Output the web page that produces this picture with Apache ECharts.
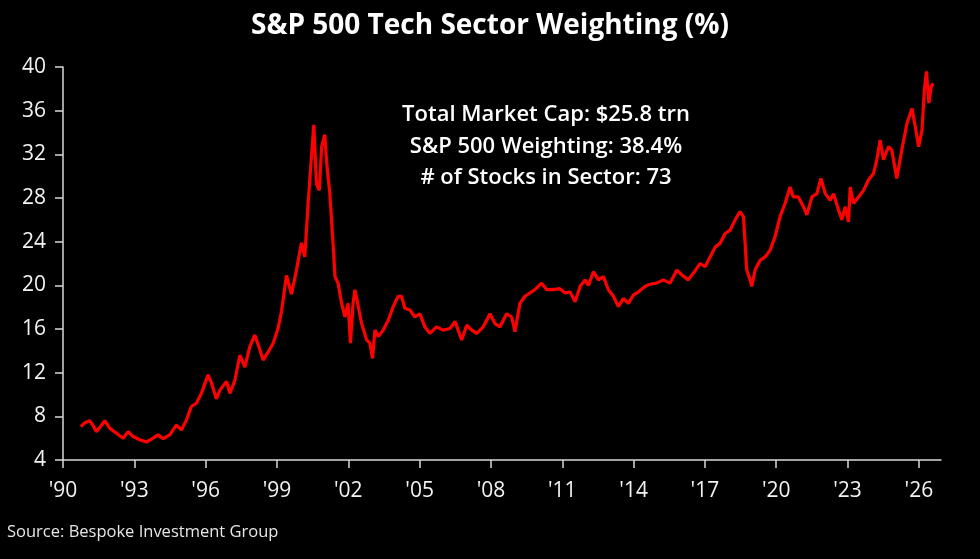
<!DOCTYPE html>
<html>
<head>
<meta charset="utf-8">
<script src="https://cdn.jsdelivr.net/npm/echarts@6/dist/echarts.min.js"></script>
<style>
  html, body { margin: 0; padding: 0; background: #000; }
  #chart { width: 980px; height: 559px; }
</style>
</head>
<body>
<div id="chart"></div>
<script>
// 日期（小数年份）和权重(%)
const years = [
  1990.75, 1990.91, 1991.12, 1991.28, 1991.40, 1991.55, 1991.76, 1991.97, 1992.25, 1992.53,
  1992.74, 1992.95, 1993.23, 1993.51, 1993.79, 1994.00, 1994.21, 1994.49, 1994.77, 1994.98,
  1995.19, 1995.40, 1995.61, 1995.82, 1996.10, 1996.24, 1996.45, 1996.60, 1996.88, 1997.02,
  1997.23, 1997.44, 1997.65, 1997.86, 1998.07, 1998.28, 1998.42, 1998.63, 1998.84, 1999.05,
  1999.19, 1999.40, 1999.61, 1999.82, 2000.03, 2000.17, 2000.31, 2000.45, 2000.55, 2000.66,
  2000.78, 2000.88, 2001.01, 2001.10, 2001.22, 2001.34, 2001.44, 2001.57, 2001.72, 2001.86,
  2001.99, 2002.09, 2002.20, 2002.28, 2002.42, 2002.56, 2002.77, 2002.91, 2003.02, 2003.12,
  2003.26, 2003.47, 2003.68, 2003.89, 2004.10, 2004.24, 2004.38, 2004.59, 2004.80, 2005.01,
  2005.22, 2005.43, 2005.71, 2005.99, 2006.28, 2006.49, 2006.77, 2006.98, 2007.19, 2007.40,
  2007.68, 2007.96, 2008.17, 2008.38, 2008.66, 2008.87, 2009.01, 2009.22, 2009.43, 2009.64,
  2009.85, 2010.13, 2010.35, 2010.62, 2010.90, 2011.12, 2011.33, 2011.54, 2011.75, 2011.96,
  2012.10, 2012.31, 2012.52, 2012.73, 2012.94, 2013.15, 2013.36, 2013.57, 2013.78, 2013.99,
  2014.20, 2014.48, 2014.69, 2014.97, 2015.25, 2015.53, 2015.82, 2016.03, 2016.30, 2016.51,
  2016.80, 2017.01, 2017.22, 2017.43, 2017.64, 2017.85, 2018.06, 2018.27, 2018.48, 2018.62,
  2018.76, 2018.90, 2018.97, 2019.11, 2019.32, 2019.53, 2019.74, 2019.95, 2020.16, 2020.37,
  2020.58, 2020.72, 2020.93, 2021.14, 2021.29, 2021.50, 2021.71, 2021.88, 2022.06, 2022.27,
  2022.41, 2022.62, 2022.76, 2022.90, 2023.04, 2023.11, 2023.25, 2023.46, 2023.67, 2023.88,
  2024.09, 2024.23, 2024.37, 2024.51, 2024.72, 2024.86, 2025.07, 2025.28, 2025.50, 2025.71,
  2025.85, 2025.99, 2026.13, 2026.23, 2026.32, 2026.42, 2026.52, 2026.60
];
const weights = [
  7.05, 7.4, 7.6, 7.1, 6.6, 7.0, 7.6, 6.9, 6.45, 6.0,
  6.6, 6.15, 5.85, 5.65, 6.0, 6.3, 5.95, 6.3, 7.2, 6.75,
  7.65, 8.9, 9.2, 10.1, 11.8, 11.1, 9.6, 10.4, 11.2, 10.1,
  11.3, 13.6, 12.5, 14.4, 15.45, 14.1, 13.15, 13.9, 14.7, 16.1,
  17.6, 20.9, 19.2, 21.4, 23.9, 22.6, 27.5, 31.8, 34.7, 29.3,
  28.7, 32.7, 33.8, 31.0, 28.5, 24.5, 20.8, 20.2, 18.35, 17.1,
  18.35, 14.7, 18.35, 19.6, 18.05, 16.5, 15.0, 14.7, 13.3, 15.9,
  15.3, 15.9, 16.8, 18.05, 19.0, 19.0, 17.9, 17.75, 17.1, 17.4,
  16.2, 15.6, 16.2, 15.9, 16.05, 16.7, 15.0, 16.35, 15.9, 15.6,
  16.2, 17.4, 16.5, 16.2, 17.4, 17.1, 15.75, 18.35, 19.0, 19.3,
  19.6, 20.2, 19.6, 19.6, 19.7, 19.3, 19.4, 18.5, 19.9, 20.5,
  20.0, 21.25, 20.5, 20.8, 19.6, 19.0, 18.05, 18.8, 18.35, 19.1,
  19.4, 19.9, 20.1, 20.2, 20.5, 20.2, 21.4, 20.95, 20.5, 21.1,
  22.0, 21.7, 22.6, 23.5, 23.85, 24.75, 25.05, 26.0, 26.75, 26.3,
  21.4, 20.5, 19.9, 21.4, 22.3, 22.6, 23.2, 24.45, 26.3, 27.5,
  29.0, 28.1, 28.1, 27.2, 26.45, 28.1, 28.4, 29.8, 28.4, 27.8,
  28.4, 26.9, 26.0, 27.2, 25.8, 29.0, 27.5, 28.1, 28.7, 29.65,
  30.25, 31.5, 33.3, 31.5, 32.7, 32.4, 29.8, 32.4, 34.85, 36.2,
  34.5, 32.7, 34.2, 37.9, 39.6, 36.7, 38.2, 38.5
];
// x轴刻度年份
const tickYears = [1990, 1993, 1996, 1999, 2002, 2005, 2008, 2011, 2014, 2017, 2020, 2023, 2026];
const baseYear = 1990;
const annotationLines = [
  'Total Market Cap: $25.8 trn',
  'S&P 500 Weighting: 38.4%',
  '# of Stocks in Sector: 73'
];

const chart = echarts.init(document.getElementById('chart'));

let seriesData = years.map((y, i) => [y - baseYear, weights[i]]);
let tickValues = tickYears.map(y => y - baseYear);
const font = '"Open Sans", "Liberation Sans", sans-serif';

let option = {
  backgroundColor: '#000000',
  animation: false,
  title: {
    text: 'S&P 500 Tech Sector Weighting (%)',
    left: 'center',
    top: 7,
    textStyle: {
      color: '#ffffff',
      fontFamily: font,
      fontWeight: 'bold',
      fontSize: 28
    }
  },
  grid: {
    left: 63,
    right: 39,
    top: 67,
    bottom: 99
  },
  xAxis: {
    type: 'value',
    min: 0,
    max: 36.93,
    splitLine: { show: false },
    axisLine: { show: true, lineStyle: { color: '#d9d9d9', width: 1.5 } },
    axisTick: {
      show: true,
      length: 8,
      customValues: tickValues,
      lineStyle: { color: '#d9d9d9', width: 1.5 }
    },
    axisLabel: {
      customValues: tickValues,
      color: '#f2f2f2',
      fontFamily: font,
      fontSize: 21,
      margin: 21,
      formatter: function (v) {
        let yy = (baseYear + Math.round(v)) % 100;
        return "'" + (yy < 10 ? '0' + yy : yy);
      }
    }
  },
  yAxis: {
    type: 'value',
    min: 4,
    max: 40,
    interval: 4,
    splitLine: { show: false },
    axisLine: { show: true, lineStyle: { color: '#d9d9d9', width: 1.5 } },
    axisTick: { show: true, length: 8, lineStyle: { color: '#d9d9d9', width: 1.5 } },
    axisLabel: {
      color: '#f2f2f2',
      fontFamily: font,
      fontSize: 21,
      margin: 17
    }
  },
  graphic: [
    {
      type: 'text',
      x: 546,
      y: 115,
      style: {
        text: annotationLines.join('\n'),
        fill: '#ffffff',
        font: '600 22px ' + font,
        textAlign: 'center',
        textVerticalAlign: 'top',
        lineHeight: 31.5,
        y: -16
      }
    },
    {
      type: 'text',
      x: 7,
      y: 532,
      style: {
        text: 'Source: Bespoke Investment Group',
        fill: '#e6e6e6',
        font: '16.5px ' + font,
        textVerticalAlign: 'middle'
      }
    }
  ],
  series: [
    {
      name: 'Tech Weighting',
      type: 'line',
      data: seriesData,
      showSymbol: false,
      symbol: 'none',
      lineStyle: { color: '#ff0000', width: 3.2 },
      itemStyle: { color: '#ff0000' }
    }
  ]
};

chart.setOption(option);
</script>
</body>
</html>
